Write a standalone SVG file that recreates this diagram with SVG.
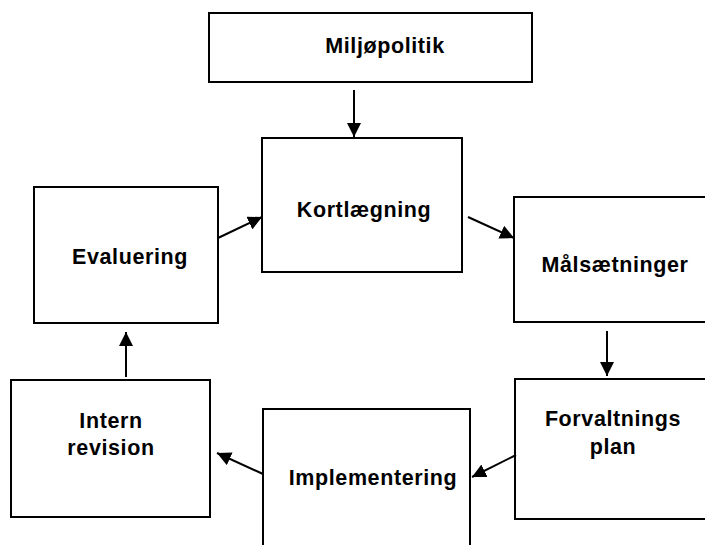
<svg xmlns="http://www.w3.org/2000/svg" width="705" height="545" viewBox="0 0 705 545">
<style>
.box{fill:#fff;stroke:#000;stroke-width:2}
.lbl{font-family:"Liberation Sans",Arial,sans-serif;font-weight:bold;font-size:21.5px;fill:#000;text-anchor:middle;letter-spacing:0.6px}
.con{stroke:#000;stroke-width:2;fill:none;marker-end:url(#ah)}
</style>
<defs>
<marker id="ah" viewBox="0 0 14 14" refX="14" refY="7" markerWidth="14" markerHeight="14" markerUnits="userSpaceOnUse" orient="auto">
<path d="M0,0 L14,7 L0,14 Z" fill="#000"/>
</marker>
</defs>
<rect width="705" height="545" fill="#fff"/>
<g id="miljopolitik"><rect class="box" x="209" y="13" width="323" height="69"/><text class="lbl" x="385" y="53">Miljøpolitik</text></g>
<g id="kortlaegning"><rect class="box" x="262" y="138" width="200" height="134"/><text class="lbl" x="364" y="217">Kortlægning</text></g>
<g id="malsaetninger"><rect class="box" x="514" y="197" width="200" height="125"/><text class="lbl" x="615" y="272">Målsætninger</text></g>
<g id="forvaltningsplan"><rect class="box" x="515" y="379" width="200" height="140"/><text class="lbl" x="613" y="426">Forvaltnings</text><text class="lbl" x="613" y="454">plan</text></g>
<g id="implementering"><rect class="box" x="263" y="409" width="207" height="150"/><text class="lbl" x="373" y="485">Implementering</text></g>
<g id="intern-revision"><rect class="box" x="11" y="380" width="199" height="137"/><text class="lbl" x="111" y="428">Intern</text><text class="lbl" x="111" y="455">revision</text></g>
<g id="evaluering"><rect class="box" x="34" y="187" width="184" height="136"/><text class="lbl" x="130" y="264">Evaluering</text></g>
<g id="connectors">
<line class="con" x1="354" y1="90" x2="354" y2="137"/>
<line class="con" x1="468" y1="217" x2="514" y2="238"/>
<line class="con" x1="607" y1="331" x2="607" y2="376"/>
<line class="con" x1="516" y1="455" x2="472" y2="477"/>
<line class="con" x1="263" y1="474" x2="217" y2="453"/>
<line class="con" x1="126" y1="377" x2="126" y2="332"/>
<line class="con" x1="218" y1="238" x2="262" y2="217"/>
</g>
</svg>
